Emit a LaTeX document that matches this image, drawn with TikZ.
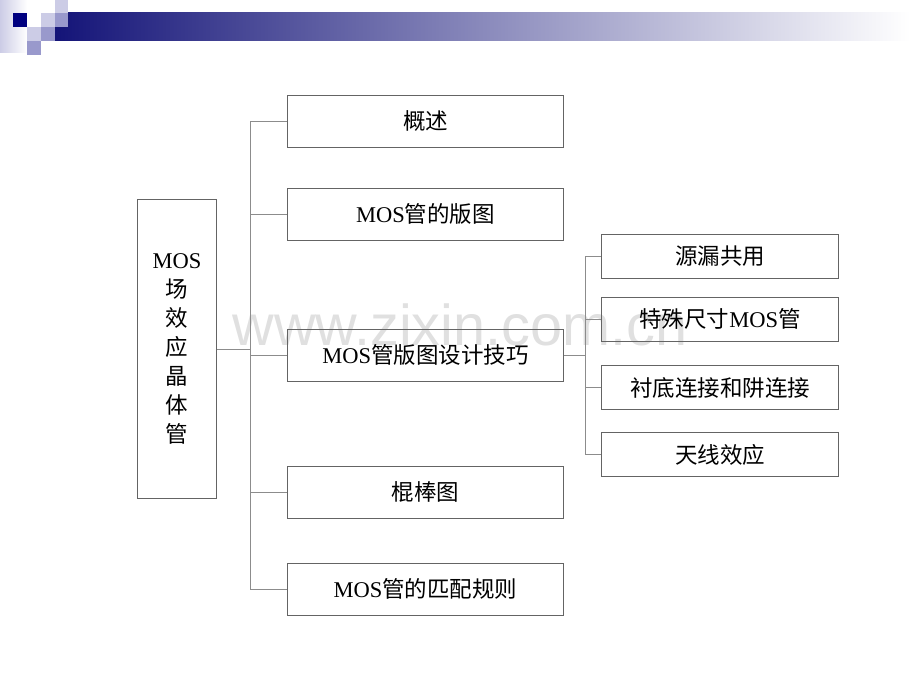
\documentclass[tikz,border=0pt]{standalone}
\usepackage{fontspec}
\setmainfont{Liberation Serif}
\newfontfamily\zh{Noto Sans CJK SC}
\newfontfamily\wmfont{Liberation Sans}
\usepackage{tikz}
\usetikzlibrary{positioning}

\definecolor{hdrnavy}{RGB}{20,20,120}
\definecolor{hdrmid}{RGB}{165,165,192}
\definecolor{sqdark}{RGB}{0,0,128}
\definecolor{sqlight}{RGB}{204,204,230}
\definecolor{sqmid}{RGB}{153,153,204}
\definecolor{linegray}{RGB}{140,140,140}
\definecolor{boxgray}{RGB}{100,100,100}

\begin{document}
\begin{tikzpicture}[x=0.025cm, y=-0.025cm, every node/.style={inner sep=0pt, font=\fontsize{16}{20.6}\selectfont},
	topic/.style={rectangle, draw=boxgray, line width=0.7pt, minimum width=6.875cm, minimum height=1.3cm},
	subtopic/.style={rectangle, draw=boxgray, line width=0.7pt, minimum width=5.9cm, minimum height=1.1cm},
	link/.style={draw=linegray, line width=0.6pt}]
	\useasboundingbox (0,0) rectangle (920,690);
	%Header
	\shade[left color=sqlight, right color=white] (0,0) rectangle (27,53);
	\shade[left color=hdrnavy, middle color=hdrmid, right color=white] (55,13) rectangle (910,41);
	\fill[sqdark] (13,13) rectangle (27,27);
	\fill[sqlight] (55,0) rectangle (68,13);
	\fill[sqlight] (41,13) rectangle (55,27);
	\fill[sqmid] (55,13) rectangle (68,27);
	\fill[sqlight] (27,27) rectangle (41,41);
	\fill[sqmid] (41,27) rectangle (55,41);
	\fill[sqmid] (27,41) rectangle (41,55);
	%Watermark
	\node [anchor=base, text=black!12, font=\wmfont\fontsize{41}{41}\selectfont] (watermark) at (460,345) {www.zixin.com.cn};
	%Root
	\node [rectangle, draw=boxgray, line width=0.7pt, minimum width=1.95cm, minimum height=7.45cm, align=center,
		font=\fontsize{16}{20.6}\selectfont\zh] (root) at (177,349) {{\rmfamily MOS}\\场\\效\\应\\晶\\体\\管};
	%Topics
	\node [topic] (intro) at (425.5,121) {\zh 概述};
	\node [topic] (layout) at (425.5,214) {MOS\zh 管的版图};
	\node [topic] (skills) at (425.5,355) {MOS\zh 管版图设计技巧};
	\node [topic] (stick) at (425.5,492) {\zh 棍棒图};
	\node [topic] (match) at (425.5,589) {MOS\zh 管的匹配规则};
	\coordinate (trunk) at (250,349);
	\draw[link] (root) -- (trunk);
	\draw[link] (trunk) |- (intro);
	\draw[link] (trunk) |- (layout);
	\draw[link] (trunk) |- (skills);
	\draw[link] (trunk) |- (stick);
	\draw[link] (trunk) |- (match);
	%Subtopics
	\node [subtopic] (share) at (720,256.5) {\zh 源漏共用};
	\node [subtopic] (special) at (720,319) {{\zh 特殊尺寸}MOS\zh 管};
	\node [subtopic] (substrate) at (720,387.5) {\zh 衬底连接和阱连接};
	\node [subtopic] (antenna) at (720,454.5) {\zh 天线效应};
	\coordinate (subtrunk) at (585,355);
	\draw[link] (skills) -- (subtrunk);
	\draw[link] (subtrunk) |- (share);
	\draw[link] (subtrunk) |- (special);
	\draw[link] (subtrunk) |- (substrate);
	\draw[link] (subtrunk) |- (antenna);
\end{tikzpicture}
\end{document}
